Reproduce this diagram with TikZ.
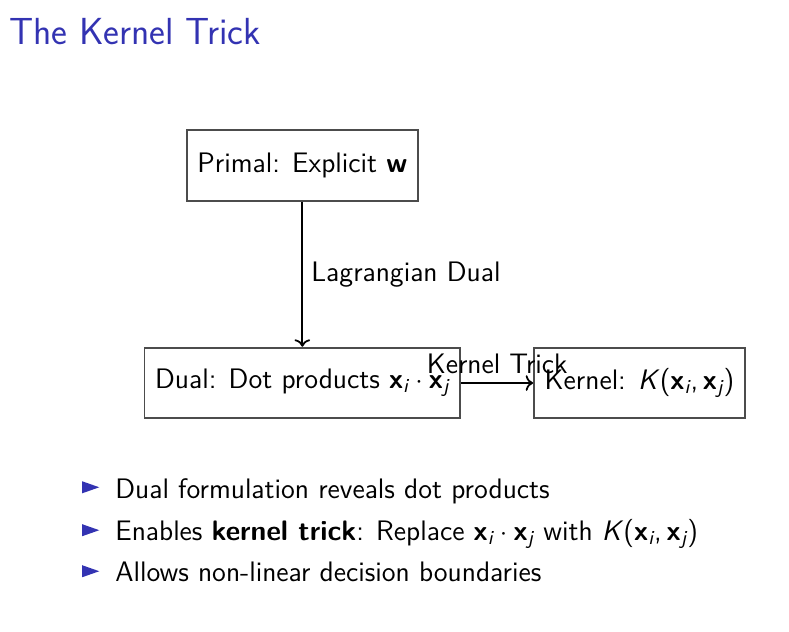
\documentclass[tikz,border=0pt,11pt]{standalone}
\renewcommand{\familydefault}{\sfdefault}
\definecolor{structure}{RGB}{51, 51, 178}
\usetikzlibrary{arrows.meta, positioning, shapes.geometric, calc}
\newcommand{\vx}[1]{\textbf{x}\textsubscript{\itshape #1}}
\newcommand{\dotop}{\hspace{0.22em}$\cdot$\hspace{0.22em}}
\newcommand{\bodysize}{\fontsize{12.7}{15}\selectfont}
\tikzset{
	stagebox/.style={rectangle, draw=black!70, line width=0.8pt, align=center, inner xsep=0.17cm, minimum height=1.12cm, font=\sffamily\bodysize},
	link/.style={->, line width=0.8pt},
	itemtext/.style={anchor=base west, inner sep=0pt, font=\sffamily\bodysize},
	bulletmark/.style={isosceles triangle, isosceles triangle stretches, fill=structure, inner sep=0pt, minimum width=0.19cm, minimum height=0.27cm},
}

\begin{document}
\begin{tikzpicture}[font=\bodysize]
		\useasboundingbox (0,0) rectangle (12.5,-10);
		\node[anchor=base west, inner sep=0pt, text=structure, font=\fontsize{17}{20}\selectfont\sffamily] (title) at (0.14,-0.71) {The Kernel Trick};
		\node[stagebox] (primal) at (4.79,-2.62) {Primal: Explicit \textbf{w}};
		\node[stagebox, below=2.3cm of primal] (dual) {Dual: Dot products \vx{i}\dotop\vx{j}};
		\node[stagebox, right=1.14cm of dual] (kernel) {Kernel: \textit{K}(\vx{i},\hspace{0.17em}\vx{j})};
		\draw[link] (primal) -- node[right] {Lagrangian Dual} (dual);
		\draw[link] (dual) -- node[above] {Kernel Trick} (kernel);
		\foreach \i/\y/\txt in {1/7.89/{Dual formulation reveals dot products}, 2/8.57/{Enables \textbf{kernel trick}: Replace \vx{i}\dotop\vx{j} with \textit{K}(\vx{i},\hspace{0.17em}\vx{j})}, 3/9.22/{Allows non-linear decision boundaries}} {
			\node[itemtext] (item\i) at (1.82,-\y) {\txt};
			\node[bulletmark] (mark\i) at ($(item\i.base west)+(-0.45,0.17)$) {};
		}
	\end{tikzpicture}
\end{document}
